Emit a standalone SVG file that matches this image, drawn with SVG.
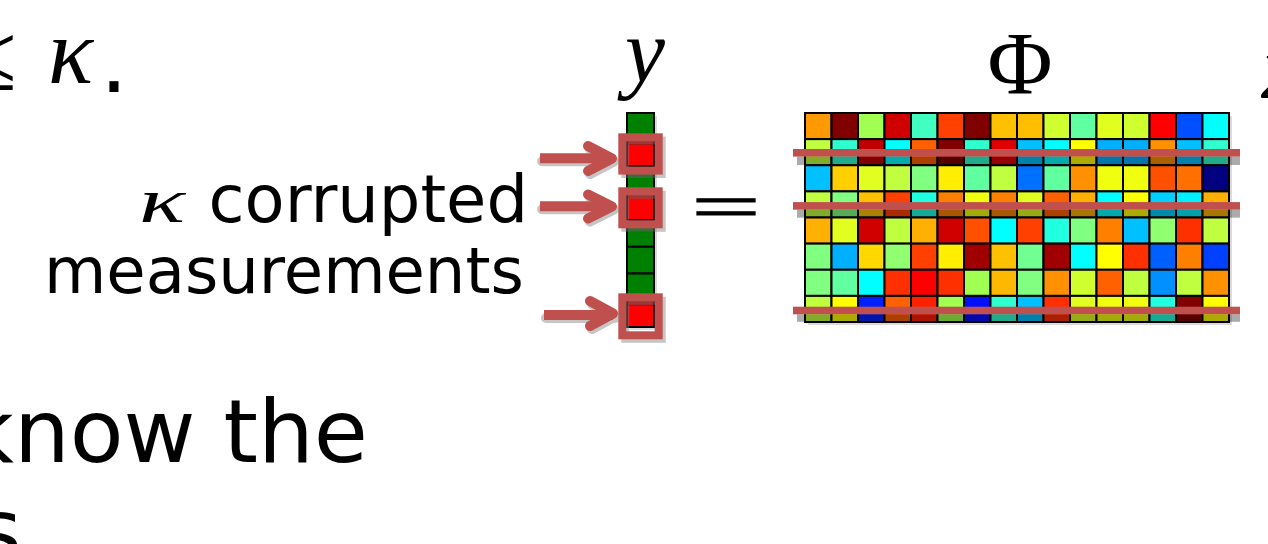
<svg xmlns="http://www.w3.org/2000/svg" width="1268" height="544" viewBox="0 0 1268 544">
<style>
.body{font-family:"DejaVu Sans","Verdana",sans-serif;fill:#000}
.math{font-family:"Liberation Serif","Times New Roman",serif;font-style:italic;fill:#000}
.mathup{font-family:"Liberation Serif","Times New Roman",serif;fill:#000}
.cell{stroke:#000;stroke-width:2}
.frame{fill:none;stroke:#c0504d;stroke-width:8}
.frameShadow{fill:none;stroke:#7f7f7f;stroke-width:8;opacity:0.45}
.bar{fill:#c0504d}
.barShadow{fill:#000;opacity:0.33}
.arrow{fill:none;stroke:#c0504d;stroke-width:10;stroke-linejoin:round}
.arrowShadow{fill:none;stroke:#808080;stroke-width:10;stroke-linejoin:round;opacity:0.45}
</style>

<g id="title-fragment">
<text class="mathup" x="-36" y="90" font-size="96">≤</text>
<text class="math" x="48" y="83" font-size="94">κ</text>
<text class="body" x="100" y="92" font-size="88">.</text>
</g>

<g id="label-y">
<text class="math" x="645" y="82" font-size="90" text-anchor="middle">y</text>
</g>

<g id="label-phi">
<text class="mathup" x="1020" y="93" font-size="89" text-anchor="middle">Φ</text>
</g>

<g id="label-x">
<text class="math" x="1262" y="98" font-size="90">x</text>
</g>

<g id="label-corrupted">
<text class="math" transform="translate(139,222) scale(1.5,1)" x="0" y="0" font-size="64">κ</text>
<text class="body" x="528" y="222" font-size="65.5" text-anchor="end">corrupted</text>
<text class="body" x="44" y="293" font-size="64">measurements</text>
</g>

<g id="body-text">
<text class="body" x="-37" y="462" font-size="88">know the</text>
<text class="body" x="-24" y="561" font-size="88">s</text>
</g>

<g id="vector-y">
<rect x="630" y="116" width="27" height="214" fill="#999" opacity="0.35"/>
<rect class="cell" x="627" y="113" width="27" height="26.75" fill="#008000"/>
<rect class="cell" x="627" y="139.75" width="27" height="26.75" fill="#ff0000"/>
<rect class="cell" x="627" y="166.5" width="27" height="26.75" fill="#008000"/>
<rect class="cell" x="627" y="193.25" width="27" height="26.75" fill="#ff0000"/>
<rect class="cell" x="627" y="220" width="27" height="26.75" fill="#008000"/>
<rect class="cell" x="627" y="246.75" width="27" height="26.75" fill="#008000"/>
<rect class="cell" x="627" y="273.5" width="27" height="26.75" fill="#008000"/>
<rect class="cell" x="627" y="300.25" width="27" height="26.75" fill="#ff0000"/>
<rect x="628" y="141" width="25" height="4" fill="#000" opacity="0.3"/>
<rect x="628" y="194.5" width="25" height="4" fill="#000" opacity="0.3"/>
<rect x="628" y="301.5" width="25" height="4" fill="#000" opacity="0.3"/>
<rect x="628" y="174" width="25" height="4" fill="#000" opacity="0.25"/>
<rect x="628" y="228" width="25" height="4" fill="#000" opacity="0.25"/>
<rect class="frameShadow" x="625.3" y="140.5" width="36.4" height="33.5"/>
<rect class="frameShadow" x="625.3" y="194.8" width="36.4" height="33"/>
<rect class="frameShadow" x="625.3" y="300.8" width="36.4" height="38"/>
<rect class="frame" x="622.3" y="137.3" width="36.4" height="33.3"/>
<rect class="frame" x="622.3" y="191.3" width="36.4" height="33"/>
<rect class="frame" x="622.3" y="297.3" width="36.4" height="38"/>
</g>

<g id="equals">
<text class="mathup" transform="translate(726,208) scale(1,0.52)" x="0" y="40" font-size="124" text-anchor="middle" stroke="#000" stroke-width="1.6">=</text>
</g>

<g id="matrix-phi">
<rect x="808" y="116" width="424" height="209" fill="#999" opacity="0.35"/>
<g id="row1">
<rect class="cell" x="805" y="113" width="26.5" height="26.125" fill="#ff9900"/>
<rect class="cell" x="831.5" y="113" width="26.5" height="26.125" fill="#800000"/>
<rect class="cell" x="858" y="113" width="26.5" height="26.125" fill="#a0ff50"/>
<rect class="cell" x="884.5" y="113" width="26.5" height="26.125" fill="#d00000"/>
<rect class="cell" x="911" y="113" width="26.5" height="26.125" fill="#40ffc0"/>
<rect class="cell" x="937.5" y="113" width="26.5" height="26.125" fill="#ff4000"/>
<rect class="cell" x="964" y="113" width="26.5" height="26.125" fill="#800000"/>
<rect class="cell" x="990.5" y="113" width="26.5" height="26.125" fill="#ffc000"/>
<rect class="cell" x="1017" y="113" width="26.5" height="26.125" fill="#ffbf00"/>
<rect class="cell" x="1043.5" y="113" width="26.5" height="26.125" fill="#d0ff30"/>
<rect class="cell" x="1070" y="113" width="26.5" height="26.125" fill="#60ffa0"/>
<rect class="cell" x="1096.5" y="113" width="26.5" height="26.125" fill="#e0ff20"/>
<rect class="cell" x="1123" y="113" width="26.5" height="26.125" fill="#d0ff30"/>
<rect class="cell" x="1149.5" y="113" width="26.5" height="26.125" fill="#ff0000"/>
<rect class="cell" x="1176" y="113" width="26.5" height="26.125" fill="#0050ff"/>
<rect class="cell" x="1202.5" y="113" width="26.5" height="26.125" fill="#00ffff"/>
</g>
<g id="row2">
<rect class="cell" x="805" y="139.125" width="26.5" height="26.125" fill="#c0ff40"/>
<rect class="cell" x="831.5" y="139.125" width="26.5" height="26.125" fill="#30ffd0"/>
<rect class="cell" x="858" y="139.125" width="26.5" height="26.125" fill="#c00000"/>
<rect class="cell" x="884.5" y="139.125" width="26.5" height="26.125" fill="#00ffff"/>
<rect class="cell" x="911" y="139.125" width="26.5" height="26.125" fill="#ff6000"/>
<rect class="cell" x="937.5" y="139.125" width="26.5" height="26.125" fill="#800000"/>
<rect class="cell" x="964" y="139.125" width="26.5" height="26.125" fill="#30ffd0"/>
<rect class="cell" x="990.5" y="139.125" width="26.5" height="26.125" fill="#e00000"/>
<rect class="cell" x="1017" y="139.125" width="26.5" height="26.125" fill="#00c0ff"/>
<rect class="cell" x="1043.5" y="139.125" width="26.5" height="26.125" fill="#00ffff"/>
<rect class="cell" x="1070" y="139.125" width="26.5" height="26.125" fill="#ffff00"/>
<rect class="cell" x="1096.5" y="139.125" width="26.5" height="26.125" fill="#00b0ff"/>
<rect class="cell" x="1123" y="139.125" width="26.5" height="26.125" fill="#00b0ff"/>
<rect class="cell" x="1149.5" y="139.125" width="26.5" height="26.125" fill="#ff9000"/>
<rect class="cell" x="1176" y="139.125" width="26.5" height="26.125" fill="#00c0ff"/>
<rect class="cell" x="1202.5" y="139.125" width="26.5" height="26.125" fill="#30ffd0"/>
</g>
<g id="row3">
<rect class="cell" x="805" y="165.25" width="26.5" height="26.125" fill="#00c0ff"/>
<rect class="cell" x="831.5" y="165.25" width="26.5" height="26.125" fill="#ffd000"/>
<rect class="cell" x="858" y="165.25" width="26.5" height="26.125" fill="#e0ff20"/>
<rect class="cell" x="884.5" y="165.25" width="26.5" height="26.125" fill="#c0ff40"/>
<rect class="cell" x="911" y="165.25" width="26.5" height="26.125" fill="#80ff80"/>
<rect class="cell" x="937.5" y="165.25" width="26.5" height="26.125" fill="#ffee00"/>
<rect class="cell" x="964" y="165.25" width="26.5" height="26.125" fill="#60ffa0"/>
<rect class="cell" x="990.5" y="165.25" width="26.5" height="26.125" fill="#c0ff40"/>
<rect class="cell" x="1017" y="165.25" width="26.5" height="26.125" fill="#0070ff"/>
<rect class="cell" x="1043.5" y="165.25" width="26.5" height="26.125" fill="#60ffa0"/>
<rect class="cell" x="1070" y="165.25" width="26.5" height="26.125" fill="#ff9000"/>
<rect class="cell" x="1096.5" y="165.25" width="26.5" height="26.125" fill="#f0ff10"/>
<rect class="cell" x="1123" y="165.25" width="26.5" height="26.125" fill="#f0ff10"/>
<rect class="cell" x="1149.5" y="165.25" width="26.5" height="26.125" fill="#ff5000"/>
<rect class="cell" x="1176" y="165.25" width="26.5" height="26.125" fill="#ff7000"/>
<rect class="cell" x="1202.5" y="165.25" width="26.5" height="26.125" fill="#000080"/>
</g>
<g id="row4">
<rect class="cell" x="805" y="191.375" width="26.5" height="26.125" fill="#c0ff40"/>
<rect class="cell" x="831.5" y="191.375" width="26.5" height="26.125" fill="#80ff80"/>
<rect class="cell" x="858" y="191.375" width="26.5" height="26.125" fill="#ffc000"/>
<rect class="cell" x="884.5" y="191.375" width="26.5" height="26.125" fill="#ff4000"/>
<rect class="cell" x="911" y="191.375" width="26.5" height="26.125" fill="#20ffe0"/>
<rect class="cell" x="937.5" y="191.375" width="26.5" height="26.125" fill="#ff8000"/>
<rect class="cell" x="964" y="191.375" width="26.5" height="26.125" fill="#f0ff10"/>
<rect class="cell" x="990.5" y="191.375" width="26.5" height="26.125" fill="#ff8000"/>
<rect class="cell" x="1017" y="191.375" width="26.5" height="26.125" fill="#e0ff20"/>
<rect class="cell" x="1043.5" y="191.375" width="26.5" height="26.125" fill="#ff6000"/>
<rect class="cell" x="1070" y="191.375" width="26.5" height="26.125" fill="#ffb000"/>
<rect class="cell" x="1096.5" y="191.375" width="26.5" height="26.125" fill="#00ffff"/>
<rect class="cell" x="1123" y="191.375" width="26.5" height="26.125" fill="#ffff00"/>
<rect class="cell" x="1149.5" y="191.375" width="26.5" height="26.125" fill="#00d0ff"/>
<rect class="cell" x="1176" y="191.375" width="26.5" height="26.125" fill="#00f0ff"/>
<rect class="cell" x="1202.5" y="191.375" width="26.5" height="26.125" fill="#ffb000"/>
</g>
<g id="row5">
<rect class="cell" x="805" y="217.5" width="26.5" height="26.125" fill="#ffb000"/>
<rect class="cell" x="831.5" y="217.5" width="26.5" height="26.125" fill="#e0ff20"/>
<rect class="cell" x="858" y="217.5" width="26.5" height="26.125" fill="#d00000"/>
<rect class="cell" x="884.5" y="217.5" width="26.5" height="26.125" fill="#c0ff40"/>
<rect class="cell" x="911" y="217.5" width="26.5" height="26.125" fill="#ffb000"/>
<rect class="cell" x="937.5" y="217.5" width="26.5" height="26.125" fill="#d00000"/>
<rect class="cell" x="964" y="217.5" width="26.5" height="26.125" fill="#ff5000"/>
<rect class="cell" x="990.5" y="217.5" width="26.5" height="26.125" fill="#00ffff"/>
<rect class="cell" x="1017" y="217.5" width="26.5" height="26.125" fill="#ff4000"/>
<rect class="cell" x="1043.5" y="217.5" width="26.5" height="26.125" fill="#20ffe0"/>
<rect class="cell" x="1070" y="217.5" width="26.5" height="26.125" fill="#80ff80"/>
<rect class="cell" x="1096.5" y="217.5" width="26.5" height="26.125" fill="#ff8000"/>
<rect class="cell" x="1123" y="217.5" width="26.5" height="26.125" fill="#00c0ff"/>
<rect class="cell" x="1149.5" y="217.5" width="26.5" height="26.125" fill="#90ff70"/>
<rect class="cell" x="1176" y="217.5" width="26.5" height="26.125" fill="#ff3000"/>
<rect class="cell" x="1202.5" y="217.5" width="26.5" height="26.125" fill="#c0ff40"/>
</g>
<g id="row6">
<rect class="cell" x="805" y="243.625" width="26.5" height="26.125" fill="#80ff80"/>
<rect class="cell" x="831.5" y="243.625" width="26.5" height="26.125" fill="#00b0ff"/>
<rect class="cell" x="858" y="243.625" width="26.5" height="26.125" fill="#ffd800"/>
<rect class="cell" x="884.5" y="243.625" width="26.5" height="26.125" fill="#90ff70"/>
<rect class="cell" x="911" y="243.625" width="26.5" height="26.125" fill="#ff4000"/>
<rect class="cell" x="937.5" y="243.625" width="26.5" height="26.125" fill="#ffee00"/>
<rect class="cell" x="964" y="243.625" width="26.5" height="26.125" fill="#a00000"/>
<rect class="cell" x="990.5" y="243.625" width="26.5" height="26.125" fill="#ffc000"/>
<rect class="cell" x="1017" y="243.625" width="26.5" height="26.125" fill="#70ff90"/>
<rect class="cell" x="1043.5" y="243.625" width="26.5" height="26.125" fill="#a00000"/>
<rect class="cell" x="1070" y="243.625" width="26.5" height="26.125" fill="#00ffff"/>
<rect class="cell" x="1096.5" y="243.625" width="26.5" height="26.125" fill="#ffff00"/>
<rect class="cell" x="1123" y="243.625" width="26.5" height="26.125" fill="#ff3000"/>
<rect class="cell" x="1149.5" y="243.625" width="26.5" height="26.125" fill="#0060ff"/>
<rect class="cell" x="1176" y="243.625" width="26.5" height="26.125" fill="#ff8000"/>
<rect class="cell" x="1202.5" y="243.625" width="26.5" height="26.125" fill="#0040ff"/>
</g>
<g id="row7">
<rect class="cell" x="805" y="269.75" width="26.5" height="26.125" fill="#80ff80"/>
<rect class="cell" x="831.5" y="269.75" width="26.5" height="26.125" fill="#60ffa0"/>
<rect class="cell" x="858" y="269.75" width="26.5" height="26.125" fill="#00ffff"/>
<rect class="cell" x="884.5" y="269.75" width="26.5" height="26.125" fill="#ff3000"/>
<rect class="cell" x="911" y="269.75" width="26.5" height="26.125" fill="#ff0000"/>
<rect class="cell" x="937.5" y="269.75" width="26.5" height="26.125" fill="#ff3000"/>
<rect class="cell" x="964" y="269.75" width="26.5" height="26.125" fill="#a0ff50"/>
<rect class="cell" x="990.5" y="269.75" width="26.5" height="26.125" fill="#ffb800"/>
<rect class="cell" x="1017" y="269.75" width="26.5" height="26.125" fill="#80ff80"/>
<rect class="cell" x="1043.5" y="269.75" width="26.5" height="26.125" fill="#ff9000"/>
<rect class="cell" x="1070" y="269.75" width="26.5" height="26.125" fill="#d0ff30"/>
<rect class="cell" x="1096.5" y="269.75" width="26.5" height="26.125" fill="#ff6000"/>
<rect class="cell" x="1123" y="269.75" width="26.5" height="26.125" fill="#c0ff40"/>
<rect class="cell" x="1149.5" y="269.75" width="26.5" height="26.125" fill="#0090ff"/>
<rect class="cell" x="1176" y="269.75" width="26.5" height="26.125" fill="#c0ff40"/>
<rect class="cell" x="1202.5" y="269.75" width="26.5" height="26.125" fill="#ff9000"/>
</g>
<g id="row8">
<rect class="cell" x="805" y="295.875" width="26.5" height="26.125" fill="#c0ff40"/>
<rect class="cell" x="831.5" y="295.875" width="26.5" height="26.125" fill="#ffff00"/>
<rect class="cell" x="858" y="295.875" width="26.5" height="26.125" fill="#0020ff"/>
<rect class="cell" x="884.5" y="295.875" width="26.5" height="26.125" fill="#ff6000"/>
<rect class="cell" x="911" y="295.875" width="26.5" height="26.125" fill="#ff2000"/>
<rect class="cell" x="937.5" y="295.875" width="26.5" height="26.125" fill="#a0ff50"/>
<rect class="cell" x="964" y="295.875" width="26.5" height="26.125" fill="#0010ff"/>
<rect class="cell" x="990.5" y="295.875" width="26.5" height="26.125" fill="#30ffd0"/>
<rect class="cell" x="1017" y="295.875" width="26.5" height="26.125" fill="#00c0ff"/>
<rect class="cell" x="1043.5" y="295.875" width="26.5" height="26.125" fill="#ff3000"/>
<rect class="cell" x="1070" y="295.875" width="26.5" height="26.125" fill="#e0ff20"/>
<rect class="cell" x="1096.5" y="295.875" width="26.5" height="26.125" fill="#f0ff10"/>
<rect class="cell" x="1123" y="295.875" width="26.5" height="26.125" fill="#f0ff10"/>
<rect class="cell" x="1149.5" y="295.875" width="26.5" height="26.125" fill="#20ffe0"/>
<rect class="cell" x="1176" y="295.875" width="26.5" height="26.125" fill="#800000"/>
<rect class="cell" x="1202.5" y="295.875" width="26.5" height="26.125" fill="#ffff00"/>
</g>
<g id="row-highlights">
<rect class="barShadow" x="797" y="156.5" width="443" height="8.5"/>
<rect class="barShadow" x="797" y="209.7" width="443" height="8"/>
<rect class="barShadow" x="797" y="314.3" width="443" height="7.5"/>
<rect class="bar" x="793" y="149" width="447" height="7.6"/>
<rect class="bar" x="793" y="202.1" width="447" height="7.6"/>
<rect class="bar" x="793" y="306.7" width="447" height="7.6"/>
</g>
</g>

<g id="connectors">
<g class="arrowShadow" transform="translate(2,3)">
<path d="M540,158.3 H612 M588,146 L612,158.5 L588,171" stroke-linecap="round"/>
<path d="M540,206.3 H612 M588,194.5 L612,206.5 L588,218.5" stroke-linecap="round"/>
<path d="M544,315 H613 M590,301 L613,313.5 L590,326" stroke-linecap="round"/>
</g>
<path class="arrow" d="M540,158.3 H612" stroke-linecap="butt"/>
<path class="arrow" d="M588,146 L612,158.5 L588,171" stroke-linecap="round"/>
<path class="arrow" d="M540,206.3 H612" stroke-linecap="butt"/>
<path class="arrow" d="M588,194.5 L612,206.5 L588,218.5" stroke-linecap="round"/>
<path class="arrow" d="M544,315 H613" stroke-linecap="butt"/>
<path class="arrow" d="M590,301 L613,313.5 L590,326" stroke-linecap="round"/>
</g>
</svg>
